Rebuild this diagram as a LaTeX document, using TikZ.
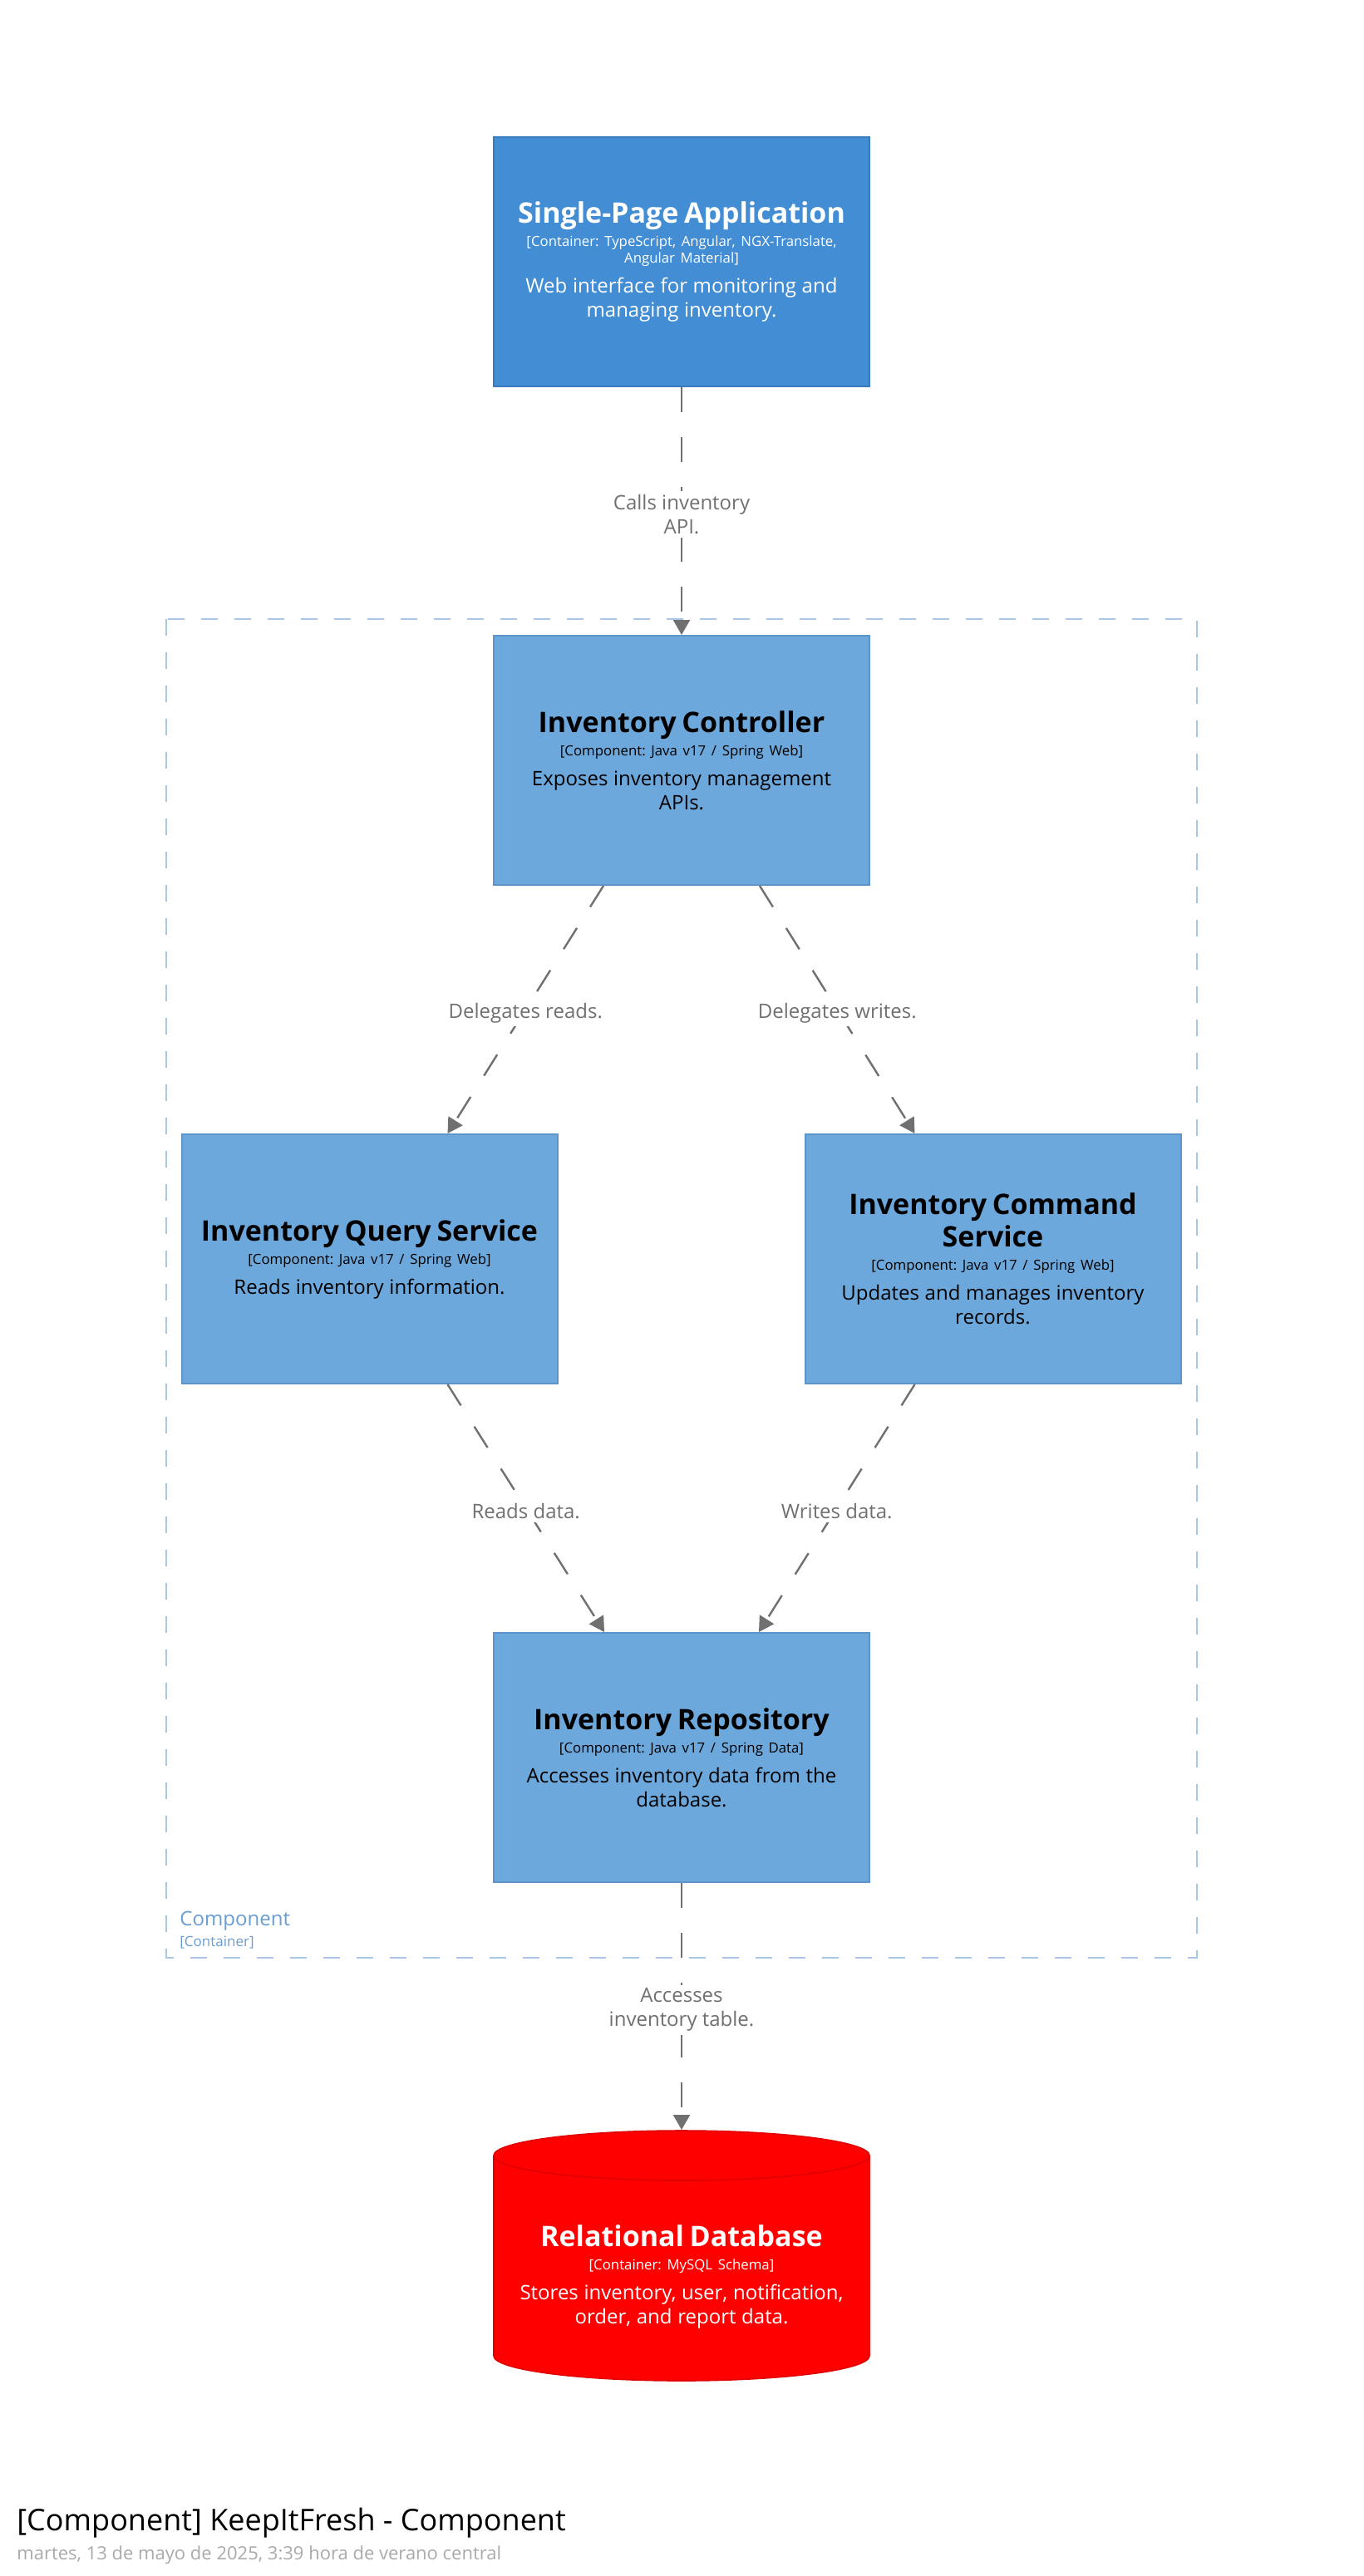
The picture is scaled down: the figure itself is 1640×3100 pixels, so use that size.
\documentclass[tikz,border=0pt]{standalone}
\usepackage{fontspec}
\setmainfont{Open Sans}
\frenchspacing
\usetikzlibrary{arrows.meta,calc}
\definecolor{spablue}{HTML}{438DD5}
\definecolor{spaline}{HTML}{3A7BBE}
\definecolor{compblue}{HTML}{6DA8DC}
\definecolor{compline}{HTML}{5E95C8}
\definecolor{dbred}{HTML}{FF0000}
\definecolor{dbline}{HTML}{E00000}
\definecolor{relgray}{HTML}{707070}
\definecolor{bndline}{HTML}{A9C6E5}
\definecolor{bndtext}{HTML}{6A9DD2}
\definecolor{dategray}{HTML}{AAAAAA}

\newcommand{\elemtext}[3]{%
  \lineskiplimit=-50pt\parskip=0pt\frenchspacing
  {\fontsize{17pt}{19.5pt}\selectfont\bfseries #1\par}%
  \vspace{4pt}%
  {\fontsize{8.4pt}{10pt}\selectfont #2\par}%
  \vspace{3.5pt}%
  {\fontsize{12pt}{14.5pt}\selectfont #3\par}}

\tikzset{
  elem/.style={rectangle, minimum width=226pt, minimum height=150pt, text width=220pt,
    align=center, inner sep=0pt, line width=1pt},
  spabox/.style={elem, fill=spablue, draw=spaline, text=white},
  compbox/.style={elem, fill=compblue, draw=compline, text=black},
  dbbox/.style={elem, minimum height=135.5pt, text=white},
  rel/.style={draw=relgray, line width=1.2pt, dash pattern=on 15pt off 15pt,
    -{Triangle[width=10pt,length=9pt]}},
  rellabel/.style={fill=white, text=relgray, align=center, inner sep=2pt, yshift=-2pt,
    font=\fontsize{12pt}{14.5pt}\selectfont},
  boundary/.style={draw=bndline, line width=1pt, dash pattern=on 10pt off 10pt},
}

\begin{document}
\begin{tikzpicture}[x=0.5pt, y=-0.5pt]
  \fill[white] (0,0) rectangle (1640,3100);
  \useasboundingbox (0,0) rectangle (1640,3100);

  \draw[boundary] (200,745) rectangle (1440,2356);
  \node[anchor=base west, inner sep=0pt, text=bndtext, font=\fontsize{12pt}{14pt}\selectfont] (bndname) at (216,2317) {Component};
  \node[anchor=base west, inner sep=0pt, text=bndtext, font=\fontsize{8.5pt}{10pt}\selectfont] (bndtype) at (216,2342) {[Container]};

  \node[spabox] (spa) at (820,314.5) {\elemtext{Single-Page Application}{[Container: TypeScript, Angular, NGX-Translate,\\Angular Material]}{Web interface for monitoring and\\managing inventory.}};
  \node[compbox] (ctrl) at (820,915) {\elemtext{Inventory Controller}{[Component: Java v17 / Spring Web]}{Exposes inventory management\\APIs.}};
  \node[compbox] (qry) at (444.5,1515) {\elemtext{Inventory Query Service}{[Component: Java v17 / Spring Web]}{Reads inventory information.}};
  \node[compbox] (cmd) at (1194.5,1515) {\elemtext{Inventory Command\\Service}{[Component: Java v17 / Spring Web]}{Updates and manages inventory\\records.}};
  \node[compbox] (repo) at (820,2115) {\elemtext{Inventory Repository}{[Component: Java v17 / Spring Data]}{Accesses inventory data from the\\database.}};

  \fill[dbred, draw=dbline, line width=0.8pt] (594,2594) -- (594,2835)
    arc[start angle=180, end angle=360, x radius=113pt, y radius=15pt] -- (1046,2594)
    arc[start angle=0, end angle=180, x radius=113pt, y radius=15pt] -- cycle;
  \draw[dbline, line width=0.8pt] (594,2594) arc[start angle=180, end angle=360, x radius=113pt, y radius=15pt];
  \node[dbbox] (db) at (820,2739.5) {\elemtext{Relational Database}{[Container: MySQL Schema]}{Stores inventory, user, notification,\\order, and report data.}};
  \coordinate (dbtop) at ($(db.north)+(0,-40)$);

  \draw[rel] (spa.south) -- (ctrl.north) node[midway, rellabel] {Calls inventory\\API.};
  \draw[rel] ($(ctrl.south)+(-94,0)$) -- ($(qry.north)+(94,0)$) node[midway, rellabel] {Delegates reads.};
  \draw[rel] ($(ctrl.south)+(94,0)$) -- ($(cmd.north)+(-94,0)$) node[midway, rellabel] {Delegates writes.};
  \draw[rel] ($(qry.south)+(94,0)$) -- ($(repo.north)+(-93,0)$) node[midway, rellabel] {Reads data.};
  \draw[rel] ($(cmd.south)+(-94,0)$) -- ($(repo.north)+(93,0)$) node[midway, rellabel] {Writes data.};
  \draw[rel] (repo.south) -- (dbtop) node[midway, rellabel] {Accesses\\inventory table.};

  \node[anchor=base west, inner sep=0pt, font=\fontsize{18pt}{21pt}\selectfont] (title) at (20,3045) {[Component] KeepItFresh - Component};
  \node[anchor=base west, inner sep=0pt, text=dategray, font=\fontsize{11pt}{13pt}\selectfont] (date) at (20,3080) {martes, 13 de mayo de 2025, 3:39 hora de verano central};
\end{tikzpicture}
\end{document}
